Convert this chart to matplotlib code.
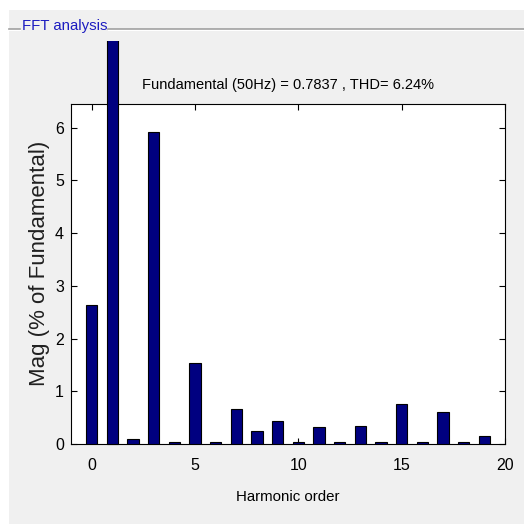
import numpy as np
import matplotlib
matplotlib.use("Agg")
import matplotlib.pyplot as plt
from matplotlib.patches import Rectangle
from matplotlib.lines import Line2D
from matplotlib.transforms import Bbox, TransformedBbox

# harmonic spectrum, % of fundamental (fundamental itself = 100 %)
harmonics = np.arange(0, 20)
mag = [2.63, 100.0, 0.095, 5.92, 0.035, 1.53, 0.035, 0.66, 0.25, 0.44,
       0.035, 0.32, 0.035, 0.35, 0.035, 0.76, 0.035, 0.60, 0.035, 0.16]
x_ticks = [0, 5, 10, 15, 20]
y_ticks = [0, 1, 2, 3, 4, 5, 6]

fundamental = 0.7837
thd = 6.24

FONT = ["Liberation Sans", "DejaVu Sans"]
PANEL = "#f0f0f0"

fig = plt.figure(figsize=(5.24, 5.24), dpi=100, facecolor="white")

# grey panel with a titled frame line
W = H = 524.0
fig.patches.append(Rectangle((9 / W, 0), 1 - 9 / W, 1 - 10 / H,
                             transform=fig.transFigure, facecolor=PANEL,
                             edgecolor="none", zorder=-5))
for x0, x1 in [(9, 20), (108, 524)]:
    fig.add_artist(Line2D([x0 / W, x1 / W], [1 - 28.5 / H] * 2,
                          transform=fig.transFigure, color="#a0a0a0", lw=1.2))
    fig.add_artist(Line2D([x0 / W, x1 / W], [1 - 30 / H] * 2,
                          transform=fig.transFigure, color="white", lw=0.8))
fig.text(22 / W, 1 - 26 / H, "FFT analysis", family=FONT, fontsize=10.8,
         color="#1c1cc0", va="center", ha="left")

ax = fig.add_axes([71 / W, 1 - 444 / H, 434 / W, 340 / H])
ax.set_facecolor("white")

bars = ax.bar(harmonics, mag, width=0.55, color="#000080",
              edgecolor="black", linewidth=0.8, zorder=3)
# the fundamental bar runs above the axes, cut off under the frame line
clip = TransformedBbox(Bbox([[0, 0], [1, 1 - 41 / H]]), fig.transFigure)
bars[1].set_clip_box(clip)
bars[1].set_clip_on(True)

ax.set_xlim(-1, 20)
ax.set_ylim(0, 6.45)
ax.set_xticks(x_ticks)
ax.set_yticks(y_ticks)
ax.tick_params(direction="in", top=True, right=True, length=4,
               width=0.8, labelsize=11.5)
ax.tick_params(axis="x", pad=10)
ax.tick_params(axis="y", pad=5)
for lab in ax.get_xticklabels() + ax.get_yticklabels():
    lab.set_family(FONT)
for s in ax.spines.values():
    s.set_linewidth(0.8)

ax.set_title("Fundamental (50Hz) = %.4f , THD= %.2f%%" % (fundamental, thd),
             family=FONT, fontsize=10.5, pad=11)
ax.set_xlabel("Harmonic order", family=FONT, fontsize=10.8, labelpad=12)
ax.set_ylabel("Mag (% of Fundamental)", family=FONT, fontsize=16,
              color="#202020")
ax.yaxis.set_label_coords(-0.048, 0.532)

fig.savefig("out.png", dpi=100, facecolor=fig.get_facecolor())
